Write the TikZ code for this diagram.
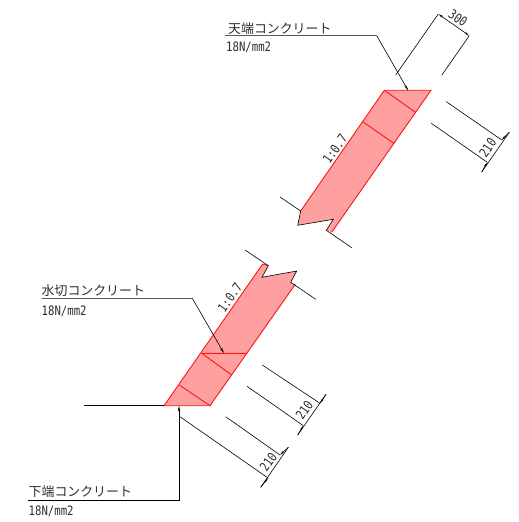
\documentclass[tikz,border=0pt]{standalone}
\usepackage{fontspec}
\usetikzlibrary{arrows.meta}
\newfontfamily\jpfont{Noto Sans CJK JP}
\newfontfamily\latinfont[FakeStretch=0.82]{DejaVu Sans Mono}
\definecolor{dimgray}{RGB}{45,45,45}
\definecolor{concfill}{RGB}{255,160,160}
\definecolor{concline}{RGB}{255,20,20}
\tikzset{
  x=1bp,y=-1bp,
  conc/.style={fill=concfill,draw=none},
  red line/.style={draw=concline,line width=0.9bp},
  thin line/.style={draw=black,line width=0.6bp},
  leader/.style={thin line,-{Stealth[length=6bp,width=2.4bp]}},
  dimline/.style={thin line,{Stealth[length=5bp,width=2bp]}-{Stealth[length=5bp,width=2bp]}},
  jp/.style={inner sep=0pt,anchor=base west,text=dimgray,font=\jpfont\fontsize{12.9bp}{14bp}\selectfont},
  num/.style={inner sep=0pt,anchor=base west,text=dimgray,font=\latinfont\fontsize{13bp}{14bp}\selectfont},
  dimnum/.style={inner sep=0pt,text=dimgray,font=\latinfont\fontsize{13bp}{14bp}\selectfont},
}
\begin{document}
\begin{tikzpicture}
\useasboundingbox (0,0) rectangle (519,522);
% key points
\coordinate (TL) at (384.3,90.3);
\coordinate (TR) at (431,90.3);
\coordinate (TB1) at (331.7,232.3);
\coordinate (TB2) at (326.3,230.3);
\coordinate (TB3) at (333.3,219.3);
\coordinate (TB4) at (297.7,225.3);
\coordinate (TB5) at (300.7,211);
\coordinate (TD1) at (415,112);
\coordinate (TD2) at (362.7,121.7);
\coordinate (TD3) at (394.3,143.7);
\coordinate (BL) at (164,405.7);
\coordinate (BR) at (210,405.7);
\coordinate (BT1) at (262.7,264);
\coordinate (BT2) at (268.3,265.7);
\coordinate (BT3) at (262,277.3);
\coordinate (BT4) at (296.7,271);
\coordinate (BT5) at (290.7,282.3);
\coordinate (BT6) at (295.3,284.3);
\coordinate (BD1) at (201.7,353.3);
\coordinate (BD2) at (246.7,353.3);
\coordinate (BD3) at (231.7,375);
\coordinate (BD4) at (179.3,385);
% fills
\fill[conc] (TL) -- (TR) -- (TB1) -- (TB2) -- (TB3) -- (TB4) -- (TB5) -- cycle;
\fill[conc] (BL) -- (BR) -- (BT6) -- (BT5) -- (BT4) -- (BT3) -- (BT2) -- (BT1) -- cycle;
% red outlines
\draw[red line] (TB5) -- (TL) -- (TR) -- (TB1);
\draw[red line] (TL) -- (TD1) (TD2) -- (TD3);
\draw[red line] (BT2) -- (BT1) -- (BL) -- (BR) -- (BT6);
\draw[red line] (BD1) -- (BD2) (BD1) -- (BD3) (BD4) -- (BR);
% break lines
\coordinate (TEa) at (280,197);
\coordinate (TEb) at (351.7,247.7);
\coordinate (BEa) at (245,250);
\coordinate (BEb) at (315.7,299.3);
\coordinate (GND) at (84,405.7);
\draw[thin line] (TEa) -- (TB5) -- (TB4) -- (TB3) -- (TB2) -- (TEb);
\draw[thin line] (BEa) -- (BT2) -- (BT3) -- (BT4) -- (BT5) -- (BEb);
\draw[thin line] (GND) -- (BL);
% top dimension 300
\coordinate (A1) at (395.7,75);
\coordinate (A2) at (438.3,14);
\coordinate (A3) at (469.3,35.7);
\coordinate (A4) at (441.7,75.3);
\draw[thin line] (A1) -- (A2) (A3) -- (A4);
\draw[dimline] (A2) -- (A3);
\node[dimnum,rotate=-35] (n300) at (458,18) {300};
% top dimension 210
\coordinate (C1) at (446.3,101.7);
\coordinate (C2) at (501.7,140);
\coordinate (C3) at (431.3,123.3);
\coordinate (C4) at (487.3,162.3);
\coordinate (C5) at (509.3,132.3);
\coordinate (C6) at (481.7,172);
\draw[thin line] (C1) -- (C2) (C3) -- (C4);
\draw[thin line] (C5) -- (C6);
\draw[thin line,-{Stealth[length=5bp,width=2bp]}] (C5) -- (C2);
\draw[thin line,-{Stealth[length=5bp,width=2bp]}] (C6) -- (C4);
\node[dimnum,rotate=55] (t210) at (487.7,147.7) {210};
% slope labels
\node[dimnum,rotate=55] (s1) at (335,149) {1:0.7};
\node[dimnum,rotate=55] (s2) at (230,297.5) {1:0.7};
% lower dimension A
\coordinate (D1) at (180,416.7);
\coordinate (D2) at (268,478);
\coordinate (D3) at (225.7,416.7);
\coordinate (D4) at (280,455);
\coordinate (D5) at (288.3,447.3);
\coordinate (D6) at (260.7,487.3);
\draw[thin line] (D1) -- (D2) (D3) -- (D4);
\draw[thin line] (D5) -- (D6);
\draw[thin line,-{Stealth[length=5bp,width=2bp]}] (D5) -- (D4);
\draw[thin line,-{Stealth[length=5bp,width=2bp]}] (D6) -- (D2);
\node[dimnum,rotate=55] (d210) at (268.3,462.3) {210};
% lower dimension B
\coordinate (E1) at (277.3,375);
\coordinate (E2) at (320,403.3);
\coordinate (E3) at (270,402.3);
\coordinate (E4) at (303.3,425.7);
\coordinate (E5) at (326,394.3);
\coordinate (E6) at (297.7,435);
\draw[thin line] (E1) -- (E2);
\draw[thin line] (E1) ++(-15,-10) -- (E1);
\draw[thin line] (E3) ++(-23,-16) -- (E3) -- (E4);
\draw[thin line] (E5) -- (E6);
\draw[thin line,-{Stealth[length=5bp,width=2bp]}] (E5) -- (E2);
\draw[thin line,-{Stealth[length=5bp,width=2bp]}] (E6) -- (E4);
\node[dimnum,rotate=55] (e210) at (304.3,410) {210};
% leaders and labels
\node[jp] (l1) at (228,33.5) {天端コンクリート};
\node[num] (l1b) at (226,52) {18N/mm2};
\coordinate (L1a) at (225,35.7);
\coordinate (L1b) at (376.7,35.7);
\coordinate (L1c) at (408.3,90.7);
\draw[leader] (L1a) -- (L1b) -- (L1c);
\node[jp] (l2) at (41.5,295.5) {水切コンクリート};
\node[num] (l2b) at (41.5,315) {18N/mm2};
\coordinate (L2a) at (41.7,298.3);
\coordinate (L2b) at (192.3,298.3);
\coordinate (L2c) at (224,353.3);
\draw[leader] (L2a) -- (L2b) -- (L2c);
\node[jp] (l3) at (28.5,496.5) {下端コンクリート};
\node[num] (l3b) at (28.5,515) {18N/mm2};
\coordinate (L3a) at (28.3,500);
\coordinate (L3b) at (179,500);
\coordinate (L3c) at (179,405.7);
\draw[leader] (L3a) -- (L3b) -- (L3c);
\end{tikzpicture}
\end{document}
